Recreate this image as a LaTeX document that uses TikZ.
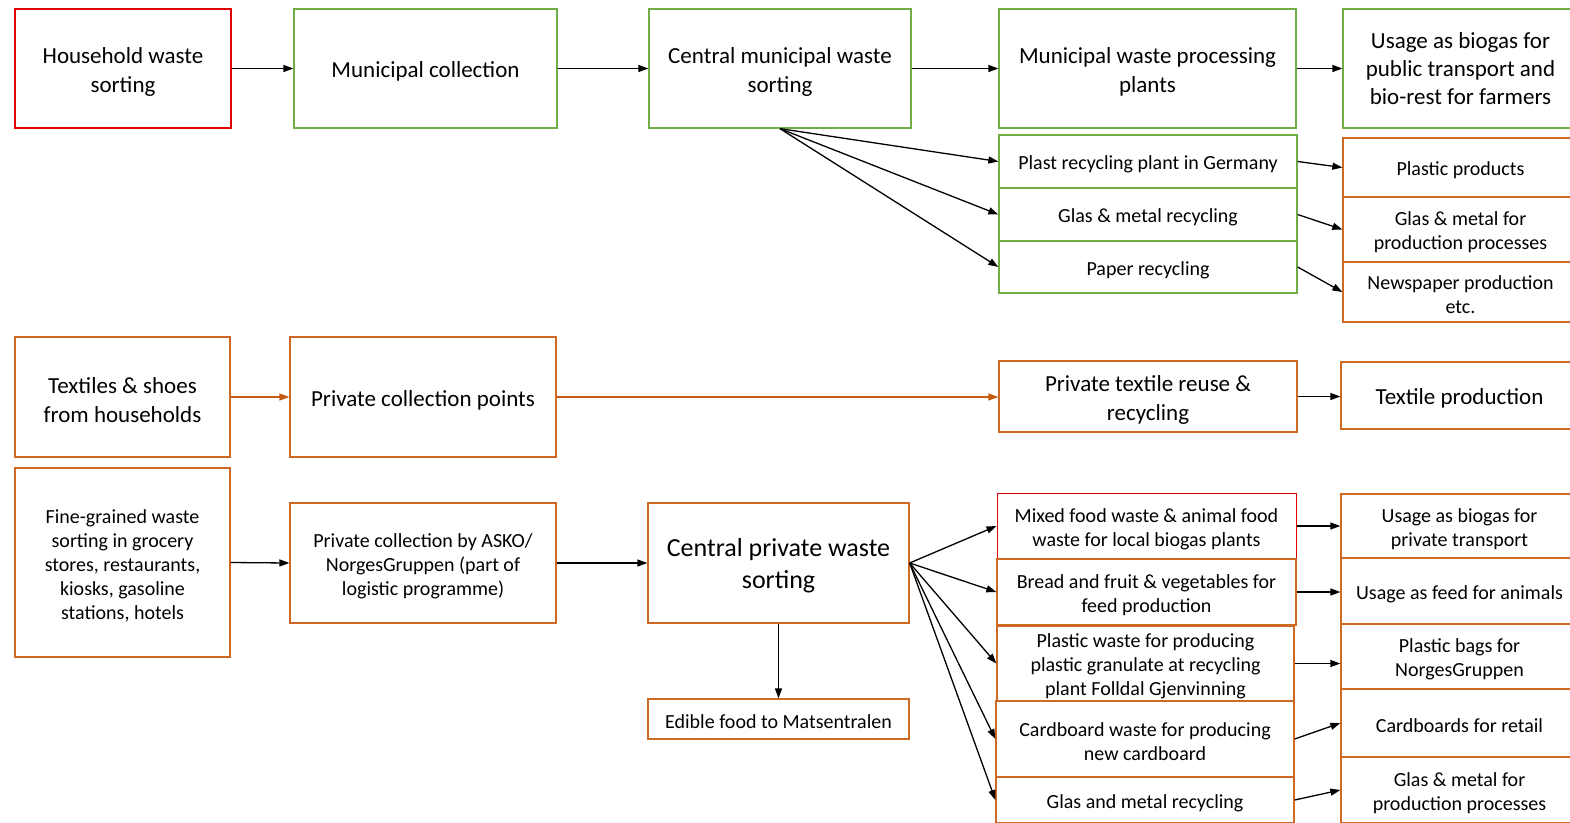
\documentclass[tikz,border=0pt]{standalone}
\usepackage{fontspec}
\setmainfont{Carlito}
\usetikzlibrary{arrows.meta}
\definecolor{cred}{HTML}{E00000}
\definecolor{cgreen}{HTML}{70AD47}
\definecolor{corange}{HTML}{CF6A25}
\definecolor{carrow}{HTML}{C55A11}
\tikzset{
  box/.style={draw, line width=1.3pt, inner sep=0pt},
  gbox/.style={box, draw=cgreen},
  rbox/.style={box, draw=cred},
  obox/.style={box, draw=corange},
  lbl/.style={align=center, text=black, inner sep=0pt, yshift=-3pt},
  big/.style={font=\fontsize{23}{29}\selectfont},
  small/.style={font=\fontsize{20}{24}\selectfont},
  txtb/.style={label={[lbl,big]center:{#1}}},
  txts/.style={label={[lbl,small]center:{#1}}},
  conn/.style={line width=1.3pt, -{Triangle[length=10pt,width=7pt]}},
  oconn/.style={conn, draw=carrow, -{Triangle[length=10pt,width=7pt,fill=carrow]}},
}
\begin{document}
\begin{tikzpicture}[x=1pt,y=-1pt]
\useasboundingbox (0,0) rectangle (1570,822);
\clip (0,0) rectangle (1570,822);
\fill[white] (0,0) rectangle (1570,822);
% Row 1
\node[rbox,minimum width=216pt,minimum height=119pt,txtb={Household waste\\sorting}] (hw) at (123,68.5) {};
\node[gbox,minimum width=263pt,minimum height=119pt,txtb={Municipal collection}] (mc) at (425.5,68.5) {};
\node[gbox,minimum width=262pt,minimum height=119pt,txtb={Central municipal waste\\sorting}] (cm) at (780,68.5) {};
\node[gbox,minimum width=297pt,minimum height=119pt,txtb={Municipal waste processing\\plants}] (mp) at (1147.5,68.5) {};
\node[gbox,minimum width=235pt,minimum height=119pt,label={[lbl,yshift=3pt,font=\fontsize{23}{28}\selectfont]center:{Usage as biogas for\\public transport and\\bio-rest for farmers}}] (ub) at (1460.5,68.5) {};
\node[gbox,minimum width=298pt,minimum height=53pt,txts={Plast recycling plant in Germany}] (pr) at (1148,161.5) {};
\node[gbox,minimum width=298pt,minimum height=53pt,txts={Glas \& metal recycling}] (gm) at (1148,214.5) {};
\node[gbox,minimum width=298pt,minimum height=52pt,txts={Paper recycling}] (pa) at (1148,267) {};
\node[obox,minimum width=235pt,minimum height=59pt,txts={Plastic products}] (pp) at (1460.5,167.5) {};
\node[obox,minimum width=235pt,minimum height=65pt,txts={Glas \& metal for\\production processes}] (gp) at (1460.5,229.5) {};
\node[obox,minimum width=235pt,minimum height=60pt,txts={Newspaper production\\etc.}] (np) at (1460.5,292) {};
% Row 2
\node[obox,minimum width=215pt,minimum height=120pt,txtb={Textiles \& shoes\\from households}] (ts) at (122.5,397) {};
\node[obox,minimum width=266pt,minimum height=120pt,txtb={Private collection points}] (pc) at (423,397) {};
\node[obox,minimum width=298pt,minimum height=71pt,txtb={Private textile reuse \&\\recycling}] (tr) at (1148,396.5) {};
\node[obox,minimum width=237pt,minimum height=67pt,txtb={Textile production}] (tp) at (1459.5,395.5) {};
% Row 3
\node[obox,minimum width=215pt,minimum height=189pt,txts={Fine-grained waste\\sorting in grocery\\stores, restaurants,\\kiosks, gasoline\\stations, hotels}] (fg) at (122.5,562.5) {};
\node[obox,minimum width=266pt,minimum height=120pt,txts={Private collection by ASKO/\\NorgesGruppen (part of\\logistic programme)}] (ak) at (423,563) {};
\node[obox,minimum width=261pt,minimum height=120pt,label={[lbl,font=\fontsize{26}{32}\selectfont]center:{Central private waste\\sorting}}] (cp) at (778.5,563) {};
\node[obox,minimum width=261pt,minimum height=40pt,txts={Edible food to Matsentralen}] (ed) at (778.5,719) {};
\node[rbox,line width=1pt,minimum width=299pt,minimum height=66pt,txts={Mixed food waste \& animal food\\waste for local biogas plants}] (mf) at (1146.5,526) {};
\node[obox,minimum width=299pt,minimum height=66pt,txts={Bread and fruit \& vegetables for\\feed production}] (bf) at (1146.5,592) {};
\node[obox,minimum width=297pt,minimum height=75pt,txts={Plastic waste for producing\\plastic granulate at recycling\\plant Folldal Gjenvinning}] (pw) at (1145.5,663.5) {};
\node[obox,minimum width=298pt,minimum height=76pt,txts={Cardboard waste for producing\\new cardboard}] (cw) at (1145,739) {};
\node[obox,minimum width=298pt,minimum height=46pt,txts={Glas and metal recycling}] (gr) at (1145,800) {};
\node[obox,minimum width=237pt,minimum height=64pt,txts={Usage as biogas for\\private transport}] (ut) at (1459.5,526) {};
\node[obox,minimum width=237pt,minimum height=66pt,txts={Usage as feed for animals}] (uf) at (1459.5,591) {};
\node[obox,minimum width=237pt,minimum height=65pt,txts={Plastic bags for\\NorgesGruppen}] (pb) at (1459.5,656.5) {};
\node[obox,minimum width=237pt,minimum height=68pt,txts={Cardboards for retail}] (cr) at (1459.5,723) {};
\node[obox,minimum width=237pt,minimum height=66pt,txts={Glas \& metal for\\production processes}] (gp2) at (1459.5,790) {};
% Connectors row 1
\draw[conn] (hw.east) -- (mc.west);
\draw[conn] (mc.east) -- (cm.west);
\draw[conn] (cm.east) -- (mp.west);
\draw[conn] (mp.east) -- (ub.west);
\draw[conn] (cm.south) -- (pr.west);
\draw[conn] (cm.south) -- (gm.west);
\draw[conn] (cm.south) -- (pa.west);
\draw[conn] (pr.east) -- (pp.west);
\draw[conn] (gm.east) -- (gp.west);
\draw[conn] (pa.east) -- (np.west);
% Row 2
\draw[oconn] (ts.east) -- (pc.west);
\draw[oconn] (pc.east) -- (pc.east -| tr.west);
\draw[conn] (tr.east) -- (tr.east -| tp.west);
% Row 3
\draw[conn] (fg.east) -- (ak.west);
\draw[conn] (ak.east) -- (cp.west);
\draw[conn] (cp.south) -- (ed.north);
\draw[conn] (cp.east) -- (mf.west);
\draw[conn] (cp.east) -- (bf.west);
\draw[conn] (cp.east) -- (pw.west);
\draw[conn] (cp.east) -- (cw.west);
\draw[conn] (cp.east) -- (gr.west);
\draw[conn] (mf.east) -- (mf.east -| ut.west);
\draw[conn] (bf.east) -- (bf.east -| uf.west);
\draw[conn] (pw.east) -- (pw.east -| pb.west);
\draw[conn] (cw.east) -- (cr.west);
\draw[conn] (gr.east) -- (gp2.west);
\end{tikzpicture}
\end{document}
